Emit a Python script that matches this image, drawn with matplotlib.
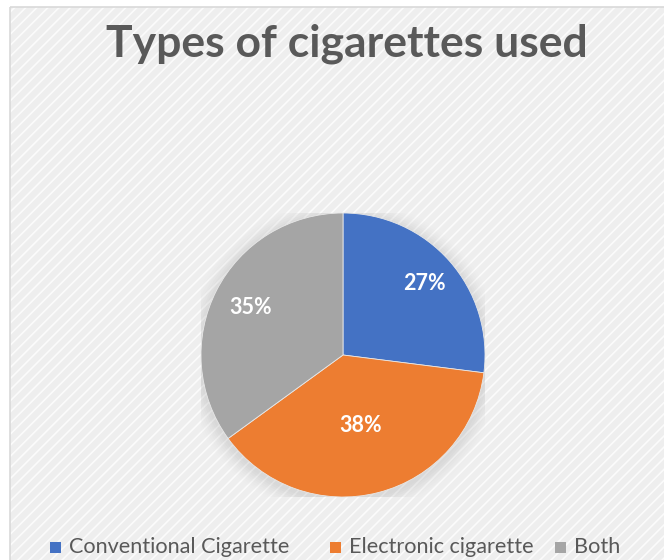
import matplotlib
matplotlib.use("Agg")
import matplotlib.pyplot as plt
from matplotlib.patches import Rectangle, Circle
import numpy as np

categories = ["Conventional Cigarette", "Electronic cigarette", "Both"]
values = [27, 38, 35]
colors = ["#4472C4", "#ED7D31", "#A5A5A5"]
title = "Types of cigarettes used"

W, H = 664, 560
fig = plt.figure(figsize=(W/100, H/100), dpi=100, facecolor="white")

plt.rcParams['hatch.linewidth'] = 1.2
bg_ax = fig.add_axes([0, 0, 1, 1])
bg_ax.set_xlim(0, W); bg_ax.set_ylim(H, 0); bg_ax.axis("off")
bg_ax.add_patch(Rectangle((10, 7), W, H, facecolor="#eeeeee", edgecolor="#fbfbfb",
                          hatch="///", linewidth=0, zorder=0))
bg_ax.add_patch(Rectangle((10, 7), W, H, facecolor="none", edgecolor="#d9d9d9",
                          linewidth=1.2, zorder=1))

cx, cy, r = 343, 355, 142
ax = fig.add_axes([(cx - r)/W, (H - cy - r)/H, 2*r/W, 2*r/H])
ax.set_xlim(-1, 1); ax.set_ylim(-1, 1); ax.set_aspect("equal"); ax.axis("off")
# soft shadow
for i, a in enumerate(np.linspace(0.05, 0.012, 8)):
    ax.add_patch(Circle((0.0, -0.02), 1 + 0.015*(i+1), color="#9a9a9a", alpha=a,
                        linewidth=0, zorder=0))
wedges, texts, autotexts = ax.pie(values, colors=colors, startangle=90, counterclock=False,
                                  autopct="%1.0f%%", pctdistance=0.75, radius=1,
                                  wedgeprops=dict(linewidth=0.6, edgecolor="#e8e8e8"),
                                  textprops=dict(color="white", fontsize=15.5, fontweight="bold",
                                                 family="Lato"))
ax.set_xlim(-1, 1); ax.set_ylim(-1, 1)
dists = [0.76, 0.51, 0.73]
for w, t, d in zip(wedges, autotexts, dists):
    ang = np.deg2rad((w.theta1 + w.theta2) / 2)
    t.set_position((d*np.cos(ang), d*np.sin(ang)))

fig.text(0.523, 1 - 57/H, title, ha="center", va="baseline", fontsize=32, fontweight="bold",
         color="#595959", family="Lato")

# legend, laid out like the original (three entries on one row)
leg_x = [50, 330, 555]
leg_y = 547
sq = 11
for x0, c, lab in zip(leg_x, colors, categories):
    bg_ax.add_patch(Rectangle((x0, leg_y - sq/2), sq, sq, facecolor=c, edgecolor="none", zorder=3))
    bg_ax.text(x0 + sq + 8, leg_y, lab, ha="left", va="center", fontsize=15.6,
               family="Lato", color="#595959", zorder=3)

fig.savefig("out.png", dpi=100, facecolor="white")
